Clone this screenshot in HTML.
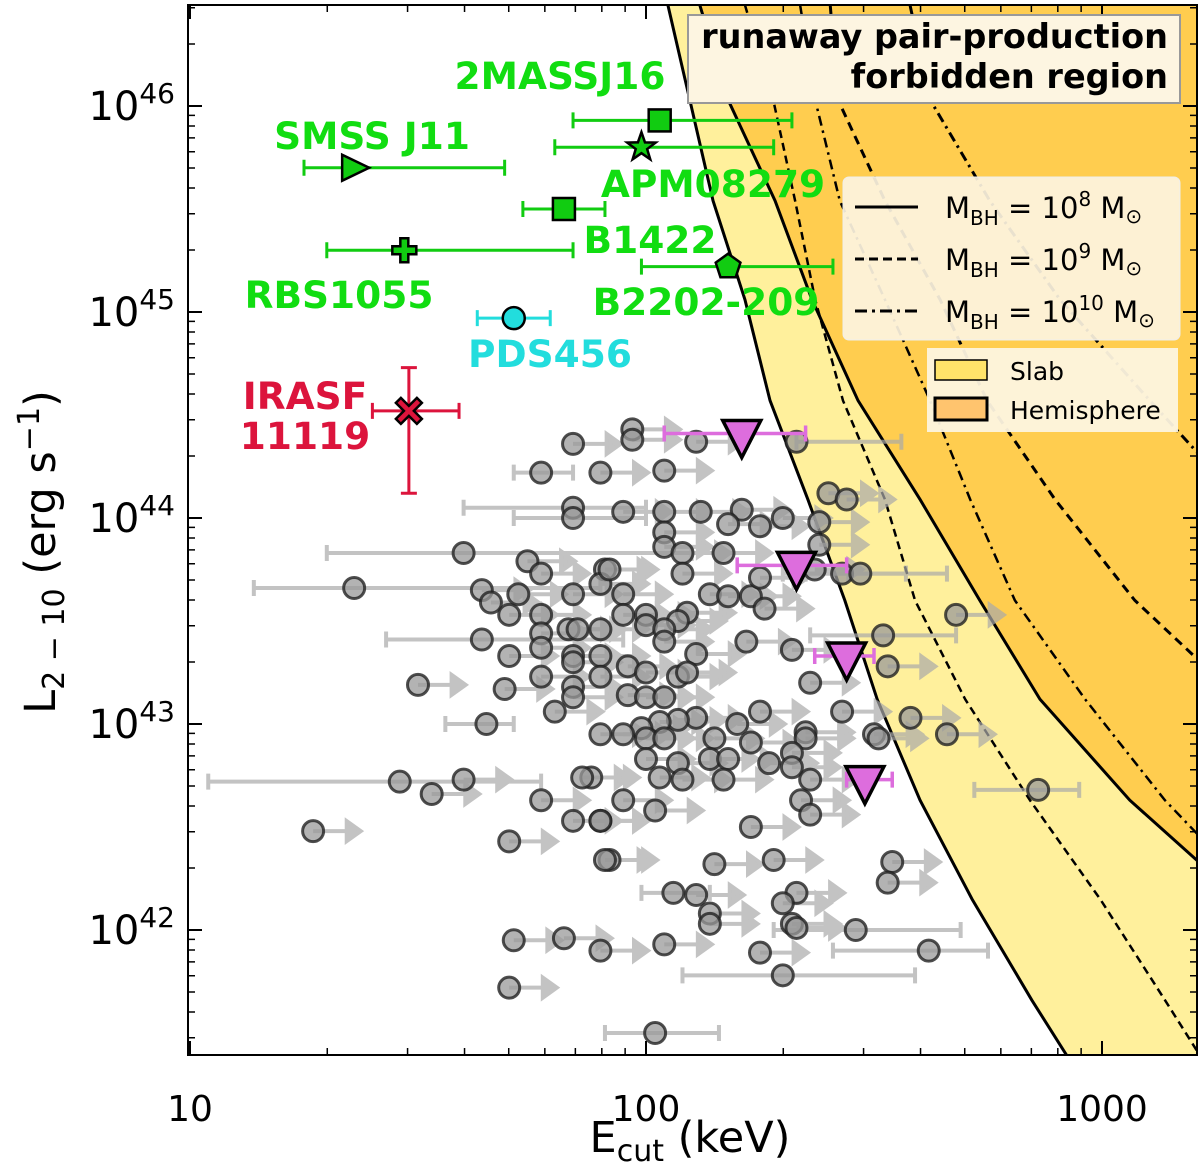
<!DOCTYPE html>
<html><head><meta charset="utf-8">
<style>
html,body{margin:0;padding:0;background:#fff;}
svg{display:block;font-family:"DejaVu Sans","Liberation Sans",sans-serif;}
</style></head>
<body>
<svg id="chart" width="1200" height="1164" viewBox="0 0 1200 1164" xmlns="http://www.w3.org/2000/svg">
<defs><clipPath id="plotclip"><rect x="188" y="5" width="1009" height="1050"/></clipPath></defs>
<g id="regions" clip-path="url(#plotclip)"></g>
<g id="curves" clip-path="url(#plotclip)"></g>
<g id="points" clip-path="url(#plotclip)"></g>
<g id="special"></g>
<g id="axes"></g>

<g>
  <rect x="688" y="15" width="492" height="88" fill="#fdf5e1" stroke="#999" stroke-width="2"/>
  <text x="1168" y="48" text-anchor="end" font-size="33.5" font-weight="bold">runaway pair-production</text>
  <text x="1168" y="88" text-anchor="end" font-size="33.5" font-weight="bold">forbidden region</text>
</g>

<g>
  <rect x="843" y="177" width="337" height="163" rx="6" fill="#fdf4df" fill-opacity="0.92" stroke="#eee"/>
  <g>
    <line x1="855" y1="207" x2="918" y2="207" stroke="#000" stroke-width="3"/>
    <text x="945" y="218" font-size="29">M<tspan font-size="20" dy="7">BH</tspan><tspan dy="-7"> = 10</tspan><tspan font-size="20" dy="-12">8</tspan><tspan dy="12"> M</tspan><tspan font-size="20" dy="5">⊙</tspan></text>
  </g>
  <g>
    <line x1="855" y1="259" x2="918" y2="259" stroke="#000" stroke-width="3" stroke-dasharray="9,5"/>
    <text x="945" y="270" font-size="29">M<tspan font-size="20" dy="7">BH</tspan><tspan dy="-7"> = 10</tspan><tspan font-size="20" dy="-12">9</tspan><tspan dy="12"> M</tspan><tspan font-size="20" dy="5">⊙</tspan></text>
  </g>
  <g>
    <line x1="855" y1="311" x2="918" y2="311" stroke="#000" stroke-width="3" stroke-dasharray="12,5,3,5"/>
    <text x="945" y="322" font-size="29">M<tspan font-size="20" dy="7">BH</tspan><tspan dy="-7"> = 10</tspan><tspan font-size="20" dy="-12">10</tspan><tspan dy="12"> M</tspan><tspan font-size="20" dy="5">⊙</tspan></text>
  </g>
</g>
<g>
  <rect x="927" y="348" width="251" height="84" fill="#fdf4df" fill-opacity="0.95"/>
  <rect x="935" y="360" width="52" height="20" fill="#ffe36a" stroke="#000" stroke-width="1.5"/>
  <text x="1010" y="380" font-size="25">Slab</text>
  <rect x="935" y="398" width="52" height="22" fill="#ffc46e" stroke="#000" stroke-width="3"/>
  <text x="1010" y="419" font-size="25">Hemisphere</text>
</g>

<script>
// ---------- data ----------
const curveLogL = [46.49,46.03,45.54,45.06,44.57,44.09,43.60,43.12,42.63,42.15,41.66,41.39];
const slab8  = [2.048,2.096,2.147,2.217,2.272,2.355,2.436,2.507,2.601,2.715,2.846,2.923];
const slab9  = [2.217,2.279,2.327,2.371,2.432,2.524,2.590,2.700,2.842,2.996,3.138,3.215];
const slab10 = [2.338,2.371,2.425,2.524,2.623,2.711,2.809,2.963,3.138,3.346,3.50,3.59];
const hemi8  = [2.118,2.180,2.283,2.364,2.465,2.601,2.732,2.864,3.061,3.303,3.43,3.50];
const hemi9  = [2.404,2.421,2.524,2.645,2.748,2.897,3.072,3.303,3.45,3.6,3.7,3.8];
const hemi10 = [2.579,2.623,2.754,2.908,3.105,3.303,3.5,3.6,3.7,3.8,3.9,4.0];

const sampleLogE = [1.84,1.97,1.97,2.11,2.33,1.77,1.90,2.04,1.84,1.84,1.60,1.74,1.77,1.91,1.36,1.64,1.72,1.84,1.90,1.66,1.70,1.77,1.64,1.77,1.83,1.85,1.90,1.70,1.77,1.84,1.84,1.90,1.50,1.69,1.77,1.90,1.84,1.84,1.80,1.65,1.90,
1.95,2.04,2.12,2.21,2.18,2.25,2.30,2.38,2.40,2.44,2.04,2.38,2.04,2.08,2.17,1.92,2.08,2.37,2.43,2.47,1.95,2.14,2.18,2.23,2.25,2.26,1.95,2.00,2.09,2.07,2.00,2.04,2.04,2.68,2.22,2.32,2.52,2.53,2.11,1.96,2.00,2.07,2.09,1.96,2.00,2.04,2.36,2.43,2.58,2.25,2.20,2.11,2.07,2.03,1.99,1.95,2.35,2.50,2.66,
2.00,2.04,2.15,2.23,2.35,2.51,2.00,2.07,2.14,2.18,2.27,2.32,2.32,2.03,2.08,2.17,2.36,1.88,2.86,1.95,2.02,2.34,2.36,1.90,2.23,1.92,2.15,2.28,2.54,2.53,2.06,2.11,2.33,2.30,2.14,2.14,2.32,2.33,2.46,1.90,2.04,2.25,2.62,2.30,2.02,
1.46,1.53,1.60,1.86,1.77,1.84,1.90,1.27,1.70,1.91,1.71,1.82,1.70];
const sampleLogL = [44.36,44.43,44.38,44.37,44.37,44.22,44.22,44.23,44.05,44.00,43.83,43.79,43.73,43.75,43.66,43.65,43.63,43.63,43.68,43.59,43.53,43.53,43.41,43.44,43.46,43.46,43.46,43.33,43.37,43.33,43.30,43.33,43.19,43.17,43.23,43.23,43.18,43.13,43.06,43.00,42.95,
44.03,44.03,44.03,44.04,43.97,43.96,44.00,43.98,44.12,44.09,43.93,43.87,43.86,43.83,43.83,43.75,43.73,43.75,43.73,43.73,43.63,43.63,43.62,43.62,43.71,43.56,43.53,43.53,43.54,43.50,43.48,43.46,43.40,43.53,43.40,43.36,43.43,43.28,43.34,43.28,43.25,43.23,43.25,43.14,43.13,43.13,43.20,43.06,43.03,43.06,43.00,43.03,43.02,43.01,42.98,42.95,42.96,42.95,42.95,
42.93,42.93,42.93,42.91,42.93,42.93,42.83,42.81,42.83,42.83,42.81,42.86,42.79,42.74,42.73,42.73,42.73,42.74,42.68,42.63,42.58,42.63,42.56,42.53,42.50,42.34,42.32,42.34,42.33,42.23,42.18,42.17,42.18,42.13,42.08,42.03,42.03,42.01,42.00,41.90,41.93,41.89,41.90,41.78,41.50,
42.72,42.66,42.73,42.74,42.63,42.53,42.53,42.48,42.43,42.34,41.95,41.96,41.72];
const barIndex = [4,5,8,9,10,14,22,39,59,60,77,118,130,138,142,143,144,145];
const barLo = [2.33,1.71,1.60,1.71,1.30,1.14,1.43,1.56,2.30,2.35,2.36,2.72,1.99,2.28,2.41,2.08,1.91,1.04];
const barHi = [2.56,1.84,2.00,2.00,2.10,1.90,1.95,1.71,2.57,2.66,2.68,2.95,2.14,2.69,2.75,2.59,2.16,1.77];

const triLogE = [2.21,2.33,2.44,2.48];
const triLogL = [44.41,43.77,43.33,42.73];
const triLo = [2.04,2.20,2.37,2.44];
const triHi = [2.35,2.44,2.50,2.54];

const srcNames = ["2MASSJ16","APM08279","SMSS J11","B1422","RBS1055","B2202-209","PDS456","IRASF 11119"];
const srcLogE = [2.03,1.99,1.36,1.82,1.47,2.18,1.71,1.48];
const srcLogL = [45.93,45.80,45.70,45.50,45.30,45.22,44.97,44.52];
const srcLo = [1.84,1.80,1.25,1.73,1.30,1.99,1.63,1.40];
const srcHi = [2.32,2.28,1.69,1.91,1.84,2.41,1.79,1.59];
const irasLogLLo = 44.12, irasLogLHi = 44.73;

const X = le => 190 + (le - 1) * 456;
const Y = ll => 106 + (46 - ll) * 206;
const NS = "http://www.w3.org/2000/svg";
function mk(tag, attrs, parent){ const e=document.createElementNS(NS,tag); for(const k in attrs) e.setAttribute(k,attrs[k]); parent.appendChild(e); return e; }
function rich(textEl, parts){
  parts.forEach(p=>{
    const t=document.createElementNS(NS,'tspan');
    if(p[1]) t.setAttribute('font-size',p[1]);
    if(p[2]) t.setAttribute('dy',p[2]);
    t.textContent=p[0];
    textEl.appendChild(t);
  });
}

const regions = document.getElementById('regions');
function fillPoly(arr, color, name){
  let pts = arr.map((le,i)=>X(le)+','+Y(curveLogL[i]));
  pts.push('1400,'+Y(curveLogL[curveLogL.length-1]), '1400,'+Y(curveLogL[0]));
  const p = mk('polygon',{points:pts.join(' '),fill:color},regions);
  
  
}
fillPoly(slab8,'#fff09c','slab-region');
fillPoly(hemi8,'#ffcd4f','hemisphere-region');

const curves = document.getElementById('curves');
function curve(arr, dash, w, name){
  const d = arr.map((le,i)=>(i?'L':'M')+X(le)+' '+Y(curveLogL[i])).join(' ');
  const p = mk('path',{d:d,fill:'none',stroke:'#000','stroke-width':w,'stroke-dasharray':dash},curves);
  
  
}
curve(slab8,'none',3,'slab-1e8-line');
curve(hemi8,'none',3,'hemisphere-1e8-line');
curve(slab9,'8,5',2.5,'slab-1e9-line');
curve(hemi9,'9,6',3,'hemisphere-1e9-line');
curve(slab10,'10,5,2.5,5',2.5,'slab-1e10-line');
curve(hemi10,'10,5,2.5,5',3,'hemisphere-1e10-line');

const pts = document.getElementById('points');
const errG = mk('g',{opacity:0.7},pts);
sampleLogE.forEach((le,i)=>{
  const x=X(le), y=Y(sampleLogL[i]);
  const bi = barIndex.indexOf(i);
  if(bi>=0){
    const x1=X(barLo[bi]), x2=X(barHi[bi]);
    const l = mk('path',{d:`M${x1} ${y}H${x2}M${x1} ${y-8}V${y+8}M${x2} ${y-8}V${y+8}`,stroke:'#aaa','stroke-width':4,fill:'none'},errG);
    
    
  } else {
    const x2 = X(le+0.1);
    const a = mk('path',{d:`M${x} ${y}H${x2-6}M${x2-12} ${y-10}L${x2+2} ${y}L${x2-12} ${y+10}Z`,stroke:'#aaa','stroke-width':4,fill:'#aaa'},errG);
    
    
  }
});
sampleLogE.forEach((le,i)=>{
  const c = mk('circle',{cx:X(le),cy:Y(sampleLogL[i]),r:10.5,fill:'#999','fill-opacity':0.75,stroke:'#222','stroke-width':3,'stroke-opacity':0.8},pts);
  
  
});
triLogE.forEach((le,i)=>{
  const x=X(le), y=Y(triLogL[i]);
  const b = mk('path',{d:`M${X(triLo[i])} ${y}H${X(triHi[i])}M${X(triLo[i])} ${y-8}V${y+8}M${X(triHi[i])} ${y-8}V${y+8}`,stroke:'#dd6ddd','stroke-width':3.5,fill:'none'},pts);
  
  
  const t = mk('polygon',{points:`${x-19},${y-13} ${x+19},${y-13} ${x},${y+24}`,fill:'#dd6ddd',stroke:'#000','stroke-width':3.5},pts);
  
  
});

const sp = document.getElementById('special');
const srcColor = ['#11cc11','#11cc11','#11cc11','#11cc11','#11cc11','#11cc11','#22dddd','#dc143c'];
srcLogE.forEach((le,i)=>{
  const x=X(le), y=Y(srcLogL[i]), col=srcColor[i];
  const x1=X(srcLo[i]), x2=X(srcHi[i]);
  const e = mk('path',{d:`M${x1} ${y}H${x2}M${x1} ${y-8}V${y+8}M${x2} ${y-8}V${y+8}`,stroke:col,'stroke-width':3,fill:'none'},sp);
  
  
  if(i===7){
    const y1=Y(irasLogLLo), y2=Y(irasLogLHi);
    const v = mk('path',{d:`M${x} ${y1}V${y2}M${x-8} ${y1}H${x+8}M${x-8} ${y2}H${x+8}`,stroke:col,'stroke-width':3,fill:'none'},sp);
    
    
  }
  let m;
  const st={fill:i===7?'#dc143c':col,stroke:'#000','stroke-width':2.5};
  if(i===0||i===3) m = mk('rect',Object.assign({x:x-11,y:y-11,width:22,height:22},st),sp);
  else if(i===1){ let p=[];for(let k=0;k<10;k++){const r=k%2?6:15,a=-Math.PI/2+k*Math.PI/5;p.push((x+r*Math.cos(a))+','+(y+r*Math.sin(a)));} m=mk('polygon',Object.assign({points:p.join(' ')},st),sp);}
  else if(i===2) m = mk('polygon',Object.assign({points:`${x-12},${y-13} ${x+15},${y} ${x-12},${y+13}`},st),sp);
  else if(i===4) m = mk('path',Object.assign({d:`M${x-4} ${y-12}h8v8h8v8h-8v8h-8v-8h-8v-8h8z`},st),sp);
  else if(i===5){ let p=[];for(let k=0;k<5;k++){const a=-Math.PI/2+k*2*Math.PI/5;p.push((x+13*Math.cos(a))+','+(y+13*Math.sin(a)));} m=mk('polygon',Object.assign({points:p.join(' ')},st),sp);}
  else if(i===6) m = mk('circle',Object.assign({cx:x,cy:y,r:11},st),sp);
  else m = mk('path',Object.assign({d:`M${x-13} ${y-8}l5 -5 8 8 8 -8 5 5 -8 8 8 8 -5 5 -8 -8 -8 8 -5 -5 8 -8z`},st),sp);
  
  
});
const labels = [
  ["2MASSJ16",560,89,'#11dd11'],["APM08279",713,197,'#11dd11'],["SMSS J11",372,149,'#11dd11'],
  ["B1422",650,253,'#11dd11'],["RBS1055",339,308,'#11dd11'],["B2202-209",706,315,'#11dd11'],
  ["PDS456",550,367,'#22dddd'],["IRASF",305,409,'#dc143c'],["11119",305,449,'#dc143c']];
labels.forEach(l=>{
  const t = mk('text',{x:l[1],y:l[2],'text-anchor':'middle',fill:l[3],'font-size':37.5,'font-weight':'bold'},sp);
  t.textContent=l[0];
  
  
});

const ax = document.getElementById('axes');
const frame = mk('rect',{x:188,y:5,width:1009,height:1050,fill:'none',stroke:'#000','stroke-width':2},ax);


const xMajor = [1,2,3];
const xTickText = ["10","100","1000"];
const yMajor = [42,43,44,45,46];
for(let d=1; d<=3; d++){
  for(let k=1;k<10;k++){
    const le=d+Math.log10(k); if(le>3.21) break;
    const x=X(le), len=k===1?14:7;
    mk('path',{d:`M${x} 1055v${-len}M${x} 5v${len}`,stroke:'#000','stroke-width':k===1?2:1.5},ax);
  }
}
xMajor.forEach((le,i)=>{
  const t=mk('text',{x:X(le),y:1121,'text-anchor':'middle','font-size':36},ax);
  t.textContent=xTickText[i];
  
  
});
for(let d=41; d<=46; d++){
  for(let k=1;k<10;k++){
    const ll=d+Math.log10(k); if(ll<41.39||ll>46.49) continue;
    const y=Y(ll), len=k===1?14:7;
    mk('path',{d:`M188 ${y}h${len}M1197 ${y}h${-len}`,stroke:'#000','stroke-width':k===1?2:1.5},ax);
  }
}
yMajor.forEach(v=>{
  const t=mk('text',{x:175,y:Y(v)+14,'text-anchor':'end','font-size':40},ax);
  rich(t,[["10"],[String(v),28,-17]]);
  
  
});
const xt=mk('text',{x:690,y:1152,'text-anchor':'middle','font-size':43},ax);
rich(xt,[["E"],["cut",30,9],[" (keV)",null,-9]]);


const yt=mk('text',{x:0,y:0,'text-anchor':'middle','font-size':43,transform:'translate(55,552) rotate(-90)'},ax);
rich(yt,[["L"],["2 − 10",30,9],[" (erg s",null,-9],["−1",30,-16],[")",null,16]]);


</script>
</svg>
</body></html>
